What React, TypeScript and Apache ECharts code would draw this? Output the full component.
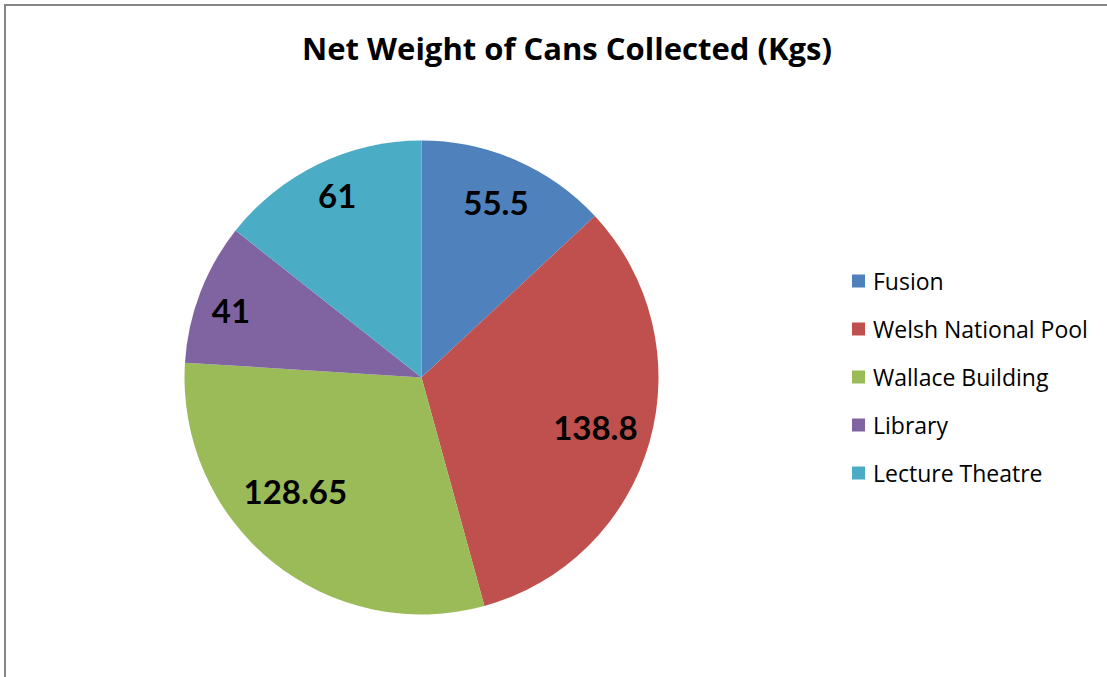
import React, { useEffect, useRef } from "react";
import * as echarts from "echarts";

const categories = ["Fusion", "Welsh National Pool", "Wallace Building", "Library", "Lecture Theatre"];
const values = [55.5, 138.8, 128.65, 41, 61];
const colors = ["#4F81BD", "#C0504D", "#9BBB59", "#8064A2", "#4BACC6"];
const title = "Net Weight of Cans Collected (Kgs)";

// small label nudges (px) to mimic the spreadsheet's "best fit" label placement
const labelNudges = [
  [-1, -2],
  [-8, -2],
  [-7, -33],
  [-14, 0],
  [-2, -12],
];

export default function App() {
  const ref = useRef<HTMLDivElement>(null);
  useEffect(() => {
    document.body.style.margin = "0";
    const chart = echarts.init(ref.current!, undefined, { renderer: "svg" });
    const data = categories.map((name, i) => ({ name, value: values[i], itemStyle: { color: colors[i] } }));
    chart.setOption({
      animation: false,
      backgroundColor: "#ffffff",
      title: {
        text: title,
        left: 562,
        top: 27,
        textAlign: "center",
        textStyle: { fontFamily: "Open Sans", fontWeight: "bold", fontSize: 31, color: "#000" },
      },
      legend: {
        orient: "vertical",
        left: 852,
        top: 267,
        padding: 0,
        itemWidth: 13,
        itemHeight: 13,
        itemGap: 20,
        icon: "rect",
        data: categories,
        textStyle: { fontFamily: "Open Sans", fontSize: 23, color: "#000", lineHeight: 28, padding: [0, 0, 0, 3] },
      },
      graphic: [
        {
          type: "rect",
          shape: { x: 5, y: 5, width: 1300, height: 900 },
          style: { fill: "none", stroke: "#868686", lineWidth: 2 },
          silent: true,
          z: 0,
        },
      ],
      series: [
        {
          type: "pie",
          center: [421.5, 377.5],
          radius: [0, 237],
          startAngle: 90,
          clockwise: true,
          data,
          label: { show: false },
          labelLine: { show: false },
          emphasis: { disabled: true },
          silent: true,
        },
        {
          type: "pie",
          center: [421.5, 377.5],
          radius: [135, 237],
          startAngle: 90,
          clockwise: true,
          data: categories.map((name, i) => ({
            name,
            value: values[i],
            label: { offset: labelNudges[i] },
          })),
          itemStyle: { color: "rgba(0,0,0,0)" },
          label: {
            show: true,
            position: "inside",
            formatter: (p: any) => String(p.value),
            fontFamily: "Lato",
            fontWeight: "bold",
            fontSize: 33,
            color: "#000",
          },
          labelLine: { show: false },
          emphasis: { disabled: true },
          silent: true,
          legendHoverLink: false,
        },
      ],
    });
    return () => chart.dispose();
  }, []);
  return <div ref={ref} style={{ width: 1107, height: 677 }} />;
}
